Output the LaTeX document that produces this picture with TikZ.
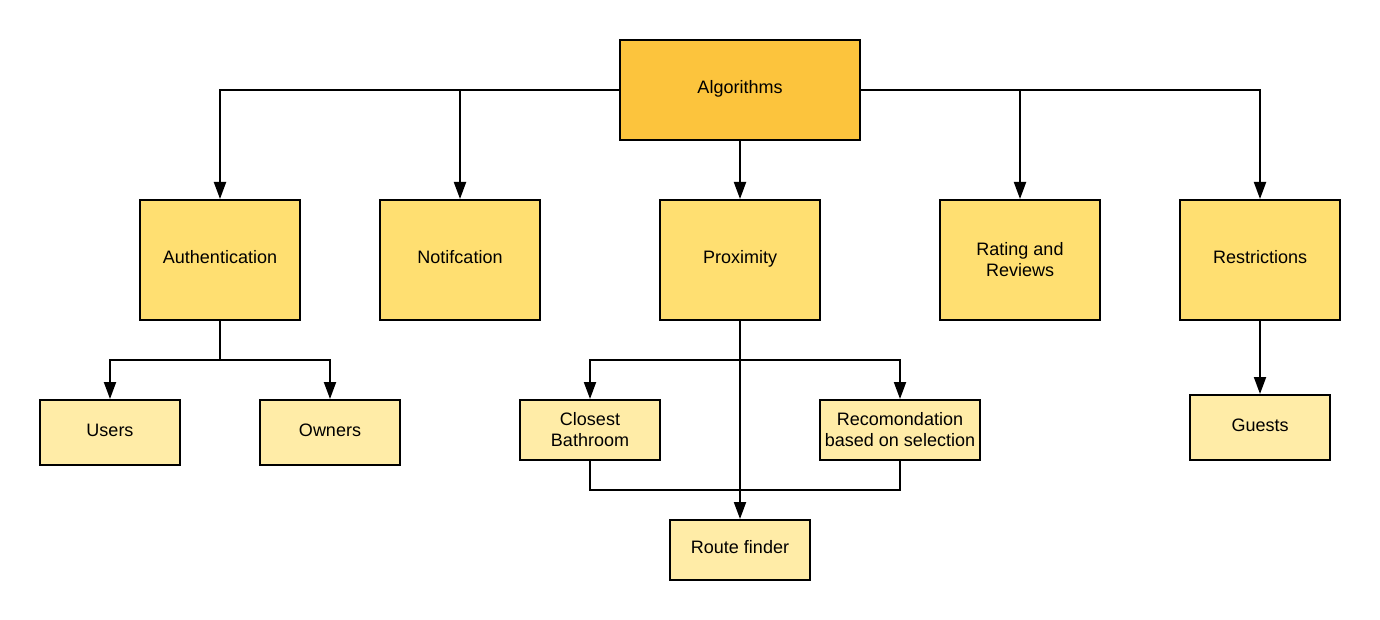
\documentclass[tikz,border=0pt]{standalone}
\usepackage{fontspec}
\setmainfont{Liberation Sans}
\usetikzlibrary{arrows.meta}
\definecolor{topc}{HTML}{FCC43D}
\definecolor{midc}{HTML}{FFDF71}
\definecolor{lowc}{HTML}{FFECA7}
\begin{document}
\begin{tikzpicture}[x=1pt,y=-1pt,
  box/.style={draw=black,line width=2pt,inner sep=0pt,align=center,font=\fontsize{18}{21}\selectfont,text height=12.5pt,text depth=5.5pt},
  twoline/.style={text height=,text depth=},
  topbox/.style={box,fill=topc,minimum width=240pt,minimum height=100pt},
  midbox/.style={box,fill=midc,minimum width=160pt,minimum height=120pt},
  lowbox/.style={box,fill=lowc,minimum width=140pt,minimum height=60pt},
  conn/.style={line width=2pt},
  arr/.style={conn,-{Triangle[length=17pt,width=12pt]}}]
\useasboundingbox (0,0) rectangle (1380,620);
\node[topbox] (alg) at (740,90) {Algorithms};
\node[midbox] (auth) at (220,260) {Authentication};
\node[midbox] (noti) at (460,260) {Notifcation};
\node[midbox] (prox) at (740,260) {Proximity};
\node[midbox,twoline] (rate) at (1020,260) {Rating and\\Reviews};
\node[midbox] (restr) at (1260,260) {Restrictions};
\node[lowbox,minimum height=65pt] (users) at (110,432.5) {Users};
\node[lowbox,minimum height=65pt] (owners) at (330,432.5) {Owners};
\node[lowbox,twoline] (close) at (590,430) {Closest\\Bathroom};
\node[lowbox,twoline,minimum width=160pt] (rec) at (900,430) {Recomondation\\based on selection};
\node[lowbox] (route) at (740,550) {Route finder};
\node[lowbox,minimum height=65pt] (guests) at (1260,427.5) {Guests};
\coordinate (aj) at (220,360);
\coordinate (pj) at (740,360);
\coordinate (rj) at (740,490);
\draw[arr] (alg.west) -| (auth.north);
\draw[arr] (alg.west) -| (noti.north);
\draw[arr] (alg.south) -- (prox.north);
\draw[arr] (alg.east) -| (rate.north);
\draw[arr] (alg.east) -| (restr.north);
\draw[conn] (auth.south) -- (aj);
\draw[arr] (aj) -| (users.north);
\draw[arr] (aj) -| (owners.north);
\draw[arr] (prox.south) -- (route.north);
\draw[arr] (pj) -| (close.north);
\draw[arr] (pj) -| (rec.north);
\draw[conn] (close.south) |- (rj);
\draw[conn] (rec.south) |- (rj);
\draw[arr] (restr.south) -- (guests.north);
\end{tikzpicture}
\end{document}
